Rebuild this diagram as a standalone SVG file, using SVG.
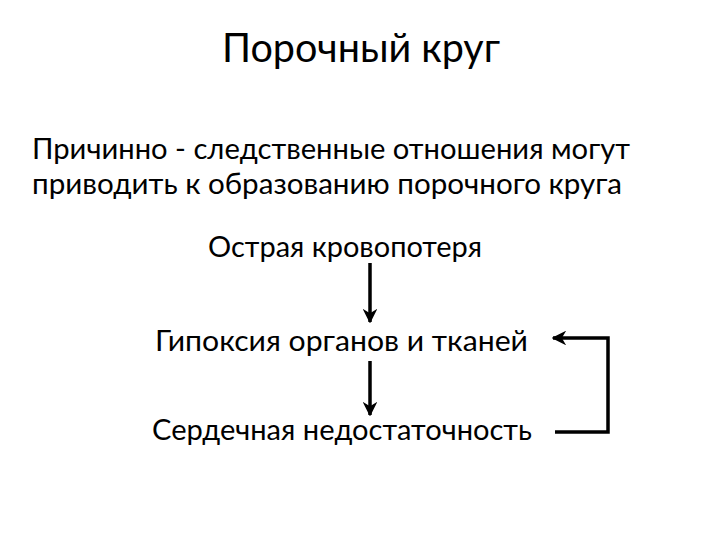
<svg xmlns="http://www.w3.org/2000/svg" width="720" height="540" viewBox="0 0 720 540">
<style>
text{font-family:"Lato","Open Sans","Liberation Sans",sans-serif;fill:#000}
.t{font-size:41px}
.b{font-size:29px}
.c{stroke:#000;stroke-width:3.5;fill:none}
</style>
<defs>
<marker id="ah" viewBox="0 0 10 10" refX="9" refY="5" markerWidth="4.2" markerHeight="4.2" orient="auto" markerUnits="strokeWidth">
<path d="M0,0 L10,5 L0,10 L3,5 Z" fill="#000"/>
</marker>
</defs>
<rect width="720" height="540" fill="#fff"/>
<g id="title"><text class="t" x="222" y="62" textLength="278" lengthAdjust="spacingAndGlyphs">Порочный круг</text></g>
<g id="intro">
<text class="b" x="32" y="159" textLength="598" lengthAdjust="spacingAndGlyphs">Причинно - следственные отношения могут</text>
<text class="b" x="32" y="194" textLength="590" lengthAdjust="spacingAndGlyphs">приводить к образованию порочного круга</text>
</g>
<g id="n1"><text class="b" x="208" y="257" textLength="274" lengthAdjust="spacingAndGlyphs">Острая кровопотеря</text></g>
<g id="n2"><text class="b" x="155" y="351" textLength="373" lengthAdjust="spacingAndGlyphs">Гипоксия органов и тканей</text></g>
<g id="n3"><text class="b" x="152" y="440" textLength="380" lengthAdjust="spacingAndGlyphs">Сердечная недостаточность</text></g>
<g id="connectors">
<line class="c" x1="370" y1="263" x2="370" y2="322" marker-end="url(#ah)"/>
<line class="c" x1="370" y1="361" x2="370" y2="415" marker-end="url(#ah)"/>
<polyline class="c" points="555,432 608,432 608,338 553,338" marker-end="url(#ah)"/>
</g>
</svg>
